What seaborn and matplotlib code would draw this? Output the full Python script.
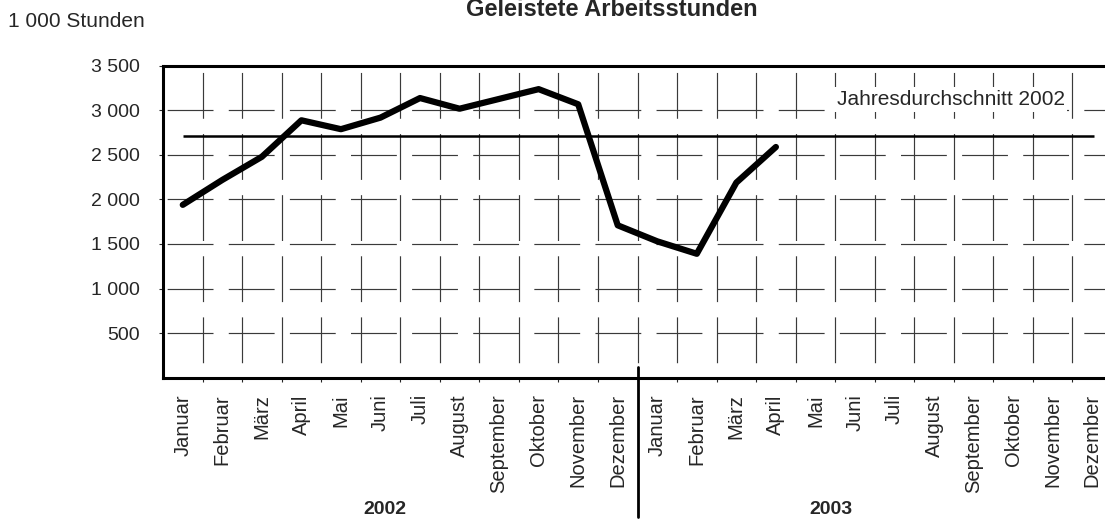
import numpy as np
import pandas as pd
import seaborn as sns
import matplotlib.pyplot as plt
import matplotlib.transforms as mtransforms

# Monthly worked hours (in 1 000 hours)
months = ['Januar', 'Februar', 'März', 'April', 'Mai', 'Juni', 'Juli',
          'August', 'September', 'Oktober', 'November', 'Dezember']
years = ['2002', '2003']
hours_2002 = [1940, 2220, 2480, 2890, 2790, 2920, 3140, 3020, 3130, 3240, 3070, 1710]
hours_2003 = [1530, 1390, 2190, 2590]
y_ticks = [500, 1000, 1500, 2000, 2500, 3000, 3500]
y_labels = ['500', '1 000', '1 500', '2 000', '2 500', '3 000', '3 500']

sns.set_style('ticks')
plt.rcParams['font.family'] = ['Liberation Sans', 'DejaVu Sans']
plt.rcParams['lines.scale_dashes'] = False

hours = hours_2002 + hours_2003
df = pd.DataFrame({'monat': np.arange(len(hours)), 'stunden': hours})
avg_2002 = np.mean(hours_2002)
n_months = len(months) * len(years)

W, H = 1105, 519
fig = plt.figure(figsize=(W / 100, H / 100), dpi=100)
ax = fig.add_axes([163 / W, 1 - 377.5 / H, 949 / W, 311.5 / H])

# grid first so the lines sit below the data
ax.set_xlim(-0.5, n_months - 0.5)
ax.set_ylim(0, 3500)
ax.set_xticks(range(n_months))
ax.set_xticklabels(months * len(years), rotation=90)
ax.set_xticks(np.arange(0.5, n_months - 1, 1), minor=True)
ax.set_yticks(y_ticks)
ax.set_yticklabels(y_labels)
ax.set_axisbelow(True)
ax.grid(axis='y', which='major', color='#3a3a3a', lw=0.85, linestyle=(41, (33, 11)))
ax.grid(axis='x', which='minor', color='#3a3a3a', lw=0.85, linestyle=(33, (33, 11)))
ax.grid(axis='x', which='major', visible=False)

# yearly average line + label
ax.hlines(avg_2002, 0, 23.05, color='black', lw=1.8, zorder=2)
ax.text(16.54, 3060, 'Jahresdurchschnitt 2002', fontsize=15, ha='left', va='baseline',
        bbox=dict(facecolor='white', edgecolor='none', pad=2), zorder=3)

sns.lineplot(data=df, x='monat', y='stunden', color='black', lw=4.5, ax=ax,
             solid_capstyle='round', solid_joinstyle='round', zorder=4)
ax.set_xlabel('')
ax.set_ylabel('')

ax.tick_params(axis='x', which='major', length=0, pad=12, labelsize=14.5)
ax.tick_params(axis='x', which='minor', length=3, width=0.8, direction='out')
ax.tick_params(axis='y', length=3, width=0.8, pad=14, labelsize=14)

for side in ['left', 'bottom', 'top']:
    ax.spines[side].set_linewidth(2.2)
    ax.spines[side].set_color('black')
ax.spines['right'].set_visible(False)

# separator between the two years and year labels
trans = mtransforms.blended_transform_factory(ax.transData, fig.transFigure)
split = len(hours_2002) - 0.5
ax.plot([split, split], [1 - 367 / H, 1 - 517 / H], transform=trans,
        color='black', lw=2, clip_on=False)
for xpos, yr in zip([5.1, 16.4], years):
    ax.text(xpos, 1 - 514 / H, yr, transform=trans, ha='center', va='baseline',
            fontsize=14, fontweight='bold')

fig.text(8 / W, 1 - 27 / H, '1 000 Stunden', fontsize=15, ha='left', va='baseline')
fig.text(612 / W, 1 - 16 / H, 'Geleistete Arbeitsstunden', fontsize=17,
         fontweight='bold', ha='center', va='baseline')

fig.savefig('out.png', dpi=100, facecolor='white')
